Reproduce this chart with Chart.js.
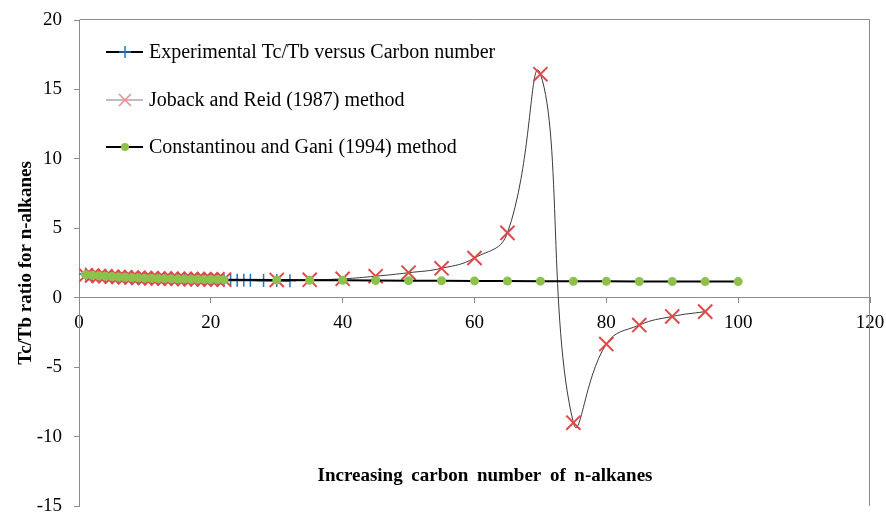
<!DOCTYPE html>
<html>
<head>
<meta charset="utf-8">
<script src="https://cdn.jsdelivr.net/npm/chart.js@4/dist/chart.umd.min.js"></script>
<style>
html,body{margin:0;padding:0;background:#fff;}
#wrap{width:886px;height:512px;position:relative;}
</style>
</head>
<body>
<div id="wrap"><canvas id="c" width="886" height="512"></canvas></div>
<script>
// ---- data ----
const expX = [1,2,3,4,5,6,7,8,9,10,11,12,13,14,15,16,17,18,19,20,21,22,23,24,25,26,28,30,32];
const expY = [1.70,1.65,1.60,1.56,1.52,1.48,1.45,1.43,1.40,1.38,1.36,1.35,1.33,1.32,1.31,1.30,1.29,1.28,1.27,1.27,1.26,1.26,1.26,1.25,1.25,1.25,1.24,1.24,1.23];

const jrX = [1,2,3,4,5,6,7,8,9,10,11,12,13,14,15,16,17,18,19,20,21,22,30,35,40,45,50,55,60,65,70,75,80,85,90,95];
const jrY = [1.62,1.60,1.57,1.54,1.51,1.49,1.47,1.45,1.43,1.42,1.40,1.39,1.38,1.37,1.36,1.35,1.34,1.34,1.33,1.32,1.32,1.31,1.28,1.29,1.36,1.55,1.80,2.12,2.86,4.67,16.1,-9.0,-3.34,-1.97,-1.35,-1.0];

const cgX = [1,2,3,4,5,6,7,8,9,10,11,12,13,14,15,16,17,18,19,20,21,22,30,35,40,45,50,55,60,65,70,75,80,85,90,95,100];
const cgY = [1.66,1.62,1.58,1.55,1.52,1.49,1.47,1.45,1.43,1.41,1.40,1.38,1.37,1.36,1.35,1.34,1.33,1.33,1.32,1.31,1.31,1.30,1.28,1.26,1.25,1.24,1.23,1.22,1.21,1.20,1.19,1.18,1.18,1.17,1.17,1.16,1.16];

const seriesNames = ["Experimental Tc/Tb versus Carbon number","Joback and Reid (1987) method","Constantinou and Gani (1994) method"];
const xTitle = "Increasing carbon number of n-alkanes";
const yTitle = "Tc/Tb ratio for n-alkanes";
const xTicks = [0,20,40,60,80,100,120];
const yTicks = [-15,-10,-5,0,5,10,15,20];

const toPts = (xs, ys) => xs.map((x, i) => ({x: x, y: ys[i]}));

const FONT = "'Liberation Serif', 'Times New Roman', serif";
const BLUE = '#1F78C0', RED = '#E2474B', GREEN = '#8DC14B', AXIS = '#8C8C8C';

const extras = {
  id: 'extras',
  afterDraw(chart) {
    const ctx = chart.ctx, a = chart.chartArea;
    ctx.save();
    // top & right frame
    ctx.strokeStyle = AXIS; ctx.lineWidth = 1;
    ctx.beginPath();
    ctx.moveTo(Math.round(a.left) + 0.5, Math.round(a.top) - 0.5);
    ctx.lineTo(Math.round(a.right) - 0.5, Math.round(a.top) - 0.5);
    ctx.lineTo(Math.round(a.right) - 0.5, Math.round(a.bottom));
    ctx.stroke();

    // legend
    const rows = [52, 100, 147];
    const x0 = 106, x1 = 143, xm = 125, xt = 149;
    ctx.font = "20px " + FONT;
    ctx.textBaseline = 'middle';
    ctx.fillStyle = '#000';
    rows.forEach((y, i) => {
      ctx.beginPath();
      ctx.moveTo(x0, y); ctx.lineTo(x1, y);
      if (i === 1) { ctx.strokeStyle = '#7f7f7f'; ctx.lineWidth = 1; }
      else { ctx.strokeStyle = '#000'; ctx.lineWidth = 2; }
      ctx.stroke();
      if (i === 0) {
        ctx.strokeStyle = BLUE; ctx.lineWidth = 1.5;
        ctx.beginPath(); ctx.moveTo(xm, y - 6); ctx.lineTo(xm, y + 6);
        ctx.moveTo(xm - 6, y); ctx.lineTo(xm + 6, y); ctx.stroke();
      } else if (i === 1) {
        ctx.strokeStyle = '#F08A8C'; ctx.lineWidth = 1.5;
        ctx.beginPath(); ctx.moveTo(xm - 6, y - 6); ctx.lineTo(xm + 6, y + 6);
        ctx.moveTo(xm + 6, y - 6); ctx.lineTo(xm - 6, y + 6); ctx.stroke();
      } else {
        ctx.fillStyle = GREEN;
        ctx.beginPath(); ctx.arc(xm, y, 4, 0, Math.PI * 2); ctx.fill();
      }
      ctx.fillStyle = '#000';
      ctx.textAlign = 'left';
      ctx.fillText(seriesNames[i], xt, y + 1);
    });

    // x-axis title
    ctx.font = "bold 19px " + FONT;
    const words = xTitle.split(' ');
    const target = 335;
    const wsum = words.reduce((s, w) => s + ctx.measureText(w).width, 0);
    const gap = Math.max((target - wsum) / (words.length - 1), ctx.measureText(' ').width);
    let cx = 485 - target / 2;
    ctx.textAlign = 'left';
    words.forEach(w => { ctx.fillText(w, cx, 476); cx += ctx.measureText(w).width + gap; });
    ctx.restore();
  }
};

new Chart(document.getElementById('c'), {
  type: 'scatter',
  data: {
    datasets: [
      {
        label: seriesNames[0], data: toPts(expX, expY), showLine: true,
        borderColor: '#000', borderWidth: 2, tension: 0,
        pointStyle: 'cross', pointRadius: 6.5, pointBorderColor: BLUE, pointBackgroundColor: BLUE,
        pointBorderWidth: 1.5, order: 3
      },
      {
        label: seriesNames[1], data: toPts(jrX, jrY), showLine: true,
        borderColor: '#3a3a3a', borderWidth: 1, tension: 0.47,
        pointStyle: 'crossRot', pointRadius: 10, pointBorderColor: RED, pointBackgroundColor: RED,
        pointBorderWidth: 2, order: 2
      },
      {
        label: seriesNames[2], data: toPts(cgX, cgY), showLine: true,
        borderColor: '#000', borderWidth: 2, tension: 0,
        pointStyle: 'circle', pointRadius: 4.5, pointBorderColor: GREEN, pointBackgroundColor: GREEN,
        pointBorderWidth: 0, order: 1
      }
    ]
  },
  options: {
    responsive: false,
    animation: false,
    events: [],
    layout: { autoPadding: false, padding: { left: 0, top: 20, right: 16, bottom: 6 } },
    plugins: { legend: { display: false }, tooltip: { enabled: false }, title: { display: false } },
    scales: {
      x: {
        type: 'linear', position: { y: 0 }, min: 0, max: 120,
        afterBuildTicks: (s) => { s.ticks = xTicks.map(v => ({ value: v })); },
        afterFit: (s) => { s.paddingLeft = 0; s.paddingRight = 0; },
        ticks: { color: '#000', font: { family: FONT, size: 19 }, padding: 9, maxRotation: 0, autoSkip: false },
        grid: { display: true, drawOnChartArea: false, drawTicks: true, tickLength: 5, color: AXIS },
        border: { display: true, color: AXIS, width: 1 }
      },
      y: {
        type: 'linear', position: 'left', min: -15, max: 20,
        afterBuildTicks: (s) => { s.ticks = yTicks.map(v => ({ value: v })); },
        afterFit: (s) => { s.width = 79; s.paddingTop = 0; s.paddingBottom = 0; },
        ticks: { color: '#000', font: { family: FONT, size: 19, lineHeight: 0.6 }, padding: 12, autoSkip: false },
        grid: { display: true, drawOnChartArea: false, drawTicks: true, tickLength: 5, color: AXIS },
        border: { display: true, color: AXIS, width: 1 },
        title: { display: true, text: yTitle, color: '#000', font: { family: FONT, size: 19, weight: 'bold' }, padding: { top: 15, bottom: 0 } }
      }
    }
  },
  plugins: [extras]
});
</script>
</body>
</html>
